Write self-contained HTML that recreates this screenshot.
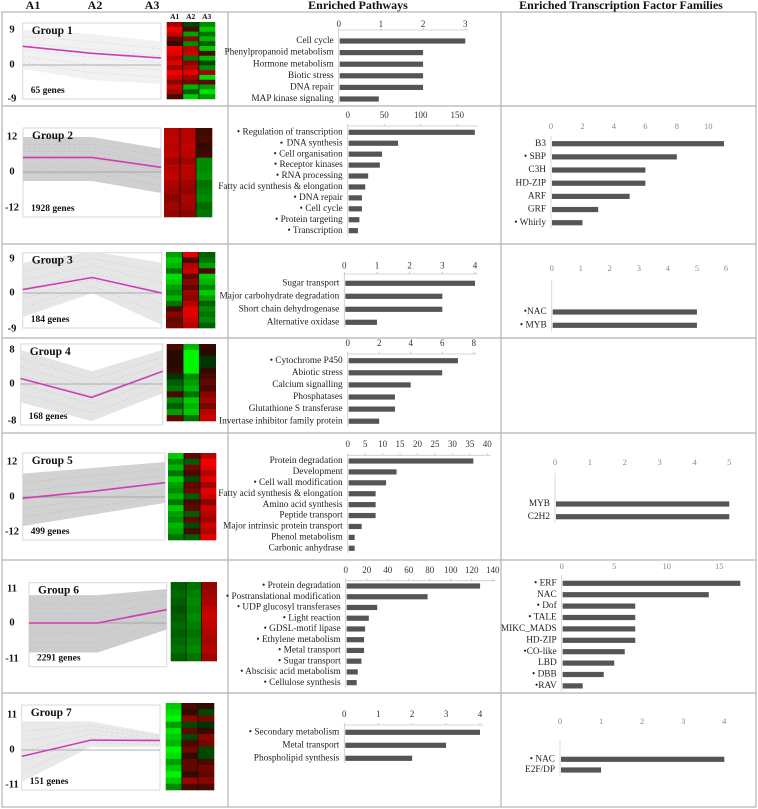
<!DOCTYPE html>
<html><head><meta charset="utf-8"><style>
html,body{margin:0;padding:0;background:#fff;}
svg{display:block;font-family:"Liberation Serif",serif;}
</style></head><body>
<svg id="fig" width="758" height="809" viewBox="0 0 758 809" xmlns="http://www.w3.org/2000/svg">
<g stroke="#b5b5b5" stroke-width="1.2" fill="none">
<rect x="2" y="12" width="754" height="795"/>
<line x1="228" y1="12" x2="228" y2="807"/>
<line x1="501" y1="12" x2="501" y2="807"/>
<line x1="2" y1="106" x2="756" y2="106"/>
<line x1="2" y1="244" x2="756" y2="244"/>
<line x1="2" y1="338" x2="756" y2="338"/>
<line x1="2" y1="433" x2="756" y2="433"/>
<line x1="2" y1="560" x2="756" y2="560"/>
<line x1="2" y1="693" x2="756" y2="693"/>
</g>
<g font-weight="bold" font-size="12" fill="#111">
<text x="33" y="9" text-anchor="middle">A1</text>
<text x="95" y="9" text-anchor="middle">A2</text>
<text x="152" y="9" text-anchor="middle">A3</text>
<text x="358" y="9" text-anchor="middle">Enriched Pathways</text>
<text x="621" y="9" text-anchor="middle">Enriched Transcription Factor Families</text>
</g>
<g font-weight="bold" font-size="7.5" fill="#111" text-anchor="middle">
<text x="174.7" y="19">A1</text><text x="190.7" y="19">A2</text><text x="206.7" y="19">A3</text>
</g>
</svg>
<script>
// ===== Pathway panels (middle) =====
const p1Labels=["Cell cycle","Phenylpropanoid metabolism","Hormone metabolism","Biotic stress","DNA repair","MAP kinase signaling"];
const p1Values=[3,2,2,2,2,0.95];
const p1Ticks=[0,1,2,3];
const p2Labels=["• Regulation of transcription","⋆ DNA synthesis","• Cell organisation","• Receptor kinases","• RNA processing","Fatty acid synthesis & elongation","• DNA repair","• Cell cycle","• Protein targeting","• Transcription"];
const p2Values=[174,69,47,44,28,24,19.5,19.5,16,14];
const p2Ticks=[0,50,100,150];
const p3Labels=["Sugar transport","Major carbohydrate degradation","Short chain dehydrogenase","Alternative oxidase"];
const p3Values=[4,3,3,1];
const p3Ticks=[0,1,2,3,4];
const p4Labels=["• Cytochrome P450","Abiotic stress","Calcium signalling","Phosphatases","Glutathione S transferase","Invertase inhibitor family protein"];
const p4Values=[7,6,4,3,3,2];
const p4Ticks=[0,2,4,6,8];
const p5Labels=["Protein degradation","Development","• Cell wall modification","Fatty acid synthesis & elongation","Amino acid synthesis","Peptide transport","Major intrinsic protein transport","Phenol metabolism","Carbonic anhydrase"];
const p5Values=[36,14,11,8,8,8,4,2,2];
const p5Ticks=[0,5,10,15,20,25,30,35,40];
const p6Labels=["• Protein degradation","• Postranslational modification","• UDP glucosyl transferases","• Light reaction","• GDSL-motif lipase","• Ethylene metabolism","• Metal transport","• Sugar transport","• Abscisic acid metabolism","• Cellulose synthesis"];
const p6Values=[128,78,30,22,18.5,17.5,17.5,15,11.5,10.5];
const p6Ticks=[0,20,40,60,80,100,120,140];
const p7Labels=["• Secondary metabolism","Metal transport","Phospholipid synthesis"];
const p7Values=[4,3,2];
const p7Ticks=[0,1,2,3,4];
// ===== TF panels (right) =====
const t2Labels=["B3","• SBP","C3H","HD-ZIP","ARF","GRF","• Whirly"];
const t2Values=[11,8,6,6,5,3,2];
const t2Ticks=[0,2,4,6,8,10];
const t3Labels=["•NAC","• MYB"];
const t3Values=[5,5];
const t3Ticks=[0,1,2,3,4,5,6];
const t5Labels=["MYB","C2H2"];
const t5Values=[5,5];
const t5Ticks=[0,1,2,3,4,5];
const t6Labels=["• ERF","NAC","• Dof","• TALE","MIKC_MADS","HD-ZIP","•CO-like","LBD","• DBB","•RAV"];
const t6Values=[17,14,7,7,7,7,6,5,4,2];
const t6Ticks=[0,5,10,15];
const t7Labels=["• NAC","E2F/DP"];
const t7Values=[4,1];
const t7Ticks=[0,1,2,3,4];
// ===== Expression profiles (left) =====
const groupNames=["Group 1","Group 2","Group 3","Group 4","Group 5","Group 6","Group 7"];
const geneCounts=["65 genes","1928 genes","184 genes","168 genes","499 genes","2291 genes","151 genes"];
const axisMax=[9,12,9,8,12,11,11];
const meanA1=[4.8,5,0.9,1.3,-0.4,0,-2];
const meanA2=[3,5,4.1,-2.9,2,0,3.1];
const meanA3=[1.8,1.6,0,3,4.9,4.3,3];
const upperA1=[9,12,8,8,8,9,9];
const upperA2=[8,12,11,3,10,9,9];
const upperA3=[6,8,8,8,12,11,5];
const lowerA1=[-1,-3,-6,-4,-10,-9,-10];
const lowerA2=[-4,-3,0,-8,-6,-9,1];
const lowerA3=[-5,-7,-8,-2,-2,-2,1];
const heat1=[[0.6,-0.2,-0.5],[1,0.2,-0.8],[0.8,-0.6,-0.4],[0.3,0.5,-0.7],[0.1,-0.5,-0.3],[1,0.7,-0.8],[0.9,0.8,0.2],[0.7,-0.4,-0.7],[0.9,0.5,-0.2],[0.6,0.7,-0.5],[1,0.9,0.6],[0.8,0.6,-0.9],[0.5,0.4,0.3],[0.8,-0.7,-0.6],[0.6,-0.3,-0.9],[0.2,-0.8,-0.6]];
const heat2=[[0.7,0.7,0.15],[0.75,0.7,0.2],[0.7,0.75,0.1],[0.75,0.7,0.15],[0.6,0.6,-0.5],[0.7,0.7,-0.5],[0.75,0.7,-0.55],[0.65,0.6,-0.4],[0.6,0.55,-0.45],[0.5,0.65,-0.5],[0.6,0.6,-0.35],[0.55,0.5,-0.4]];
const heat3=[[-0.6,0.9,-0.3],[-0.8,0.2,-0.4],[-0.7,0.7,-0.6],[-0.4,0.8,0.2],[-0.9,0.3,-0.8],[-0.8,0.5,-0.7],[-0.6,0.3,-0.5],[-0.5,0.6,-0.8],[-0.7,0.5,-0.6],[-0.4,0.7,-0.3],[0.2,0.9,-0.5],[0.5,0.9,-0.4],[0.3,0.8,-0.5],[0.4,0.7,-0.3]];
const heat4=[[0.2,-0.7,0.1],[0.05,-1,0.05],[0.05,-1,-0.1],[0.05,-1,-0.1],[0.1,-1,0.1],[-0.1,-0.5,0.2],[-0.3,-0.6,0.3],[-0.4,-0.7,0.2],[0.2,-0.4,0.5],[-0.5,-0.8,0.6],[-0.3,-0.7,0.4],[-0.6,-0.8,0.7],[0.3,-0.4,0.8]];
const heat5=[[-0.8,0.3,0.7],[-0.5,-0.3,1],[-0.7,0.4,0.9],[-0.4,0.2,0.7],[-0.8,-0.2,0.9],[-0.6,0.3,0.6],[-0.5,0.4,0.9],[-0.7,-0.3,0.8],[-0.4,0.2,0.5],[-0.8,0.3,0.8],[-0.6,-0.3,0.7],[-0.5,0.3,0.6],[-0.7,-0.2,0.8],[-0.6,0.2,0.7],[-0.4,-0.3,0.9]];
const heat6=[[-0.3,-0.4,0.55],[-0.35,-0.45,0.6],[-0.3,-0.5,0.65],[-0.25,-0.45,0.75],[-0.3,-0.5,0.8],[-0.35,-0.45,0.75],[-0.3,-0.4,0.7],[-0.35,-0.45,0.65],[-0.4,-0.5,0.7],[-0.3,-0.4,0.6]];
const heat7=[[-0.8,0.2,0.1],[-0.9,0.1,-0.2],[-1,0.5,0.4],[-0.6,-0.2,-0.1],[-0.9,0.3,0.1],[-0.8,-0.2,0.5],[-0.7,0.2,0.4],[-1,0.4,-0.2],[-0.9,0.1,-0.2],[-0.6,0.3,0.2],[-0.8,0.3,0.4],[-1,0.1,0.3],[-0.8,0.6,0.5],[-0.5,0.2,0.2]];

const NS="http://www.w3.org/2000/svg";
const svg=document.getElementById('fig');
function mk(tag,attrs,parent){const e=document.createElementNS(NS,tag);for(const k in attrs)e.setAttribute(k,attrs[k]);(parent||svg).appendChild(e);return e;}

function barChart(name,labels,values,ticks,cfg){
  const g=mk('g',{});
  
  
  const maxT=ticks[ticks.length-1];
  const sx=v=>cfg.x0+(cfg.xMax-cfg.x0)*v/maxT;
  const yRow=i=>cfg.y0+i*cfg.step;
  ticks.forEach(t=>{
    const tl=mk('text',{x:sx(t),y:cfg.tickY,'text-anchor':'middle','dominant-baseline':'middle','font-size':cfg.tf?8.5:9,fill:cfg.tf?'#8a8a8a':'#333'},g);
    tl.textContent=t;
    
    
    if(!cfg.tf) mk('line',{x1:sx(t),y1:cfg.axisY-2,x2:sx(t),y2:cfg.axisY,stroke:'#bbb','stroke-width':0.8},g);
  });
  if(!cfg.tf){
    mk('line',{x1:cfg.x0,y1:cfg.axisY,x2:cfg.axisEnd||sx(maxT)+3,y2:cfg.axisY,stroke:'#c8c8c8','stroke-width':0.8},g);
    mk('line',{x1:cfg.x0,y1:cfg.axisY,x2:cfg.x0,y2:yRow(labels.length-1)+5,stroke:'#c8c8c8','stroke-width':0.8},g);
  } else {
    mk('line',{x1:cfg.x0,y1:cfg.vTop,x2:cfg.x0,y2:yRow(labels.length-1)+6,stroke:'#d0d0d0','stroke-width':0.8},g);
  }
  labels.forEach((lb,i)=>{
    const t=mk('text',{x:cfg.x0-5,y:yRow(i),'text-anchor':'end','dominant-baseline':'middle','font-size':9.3,fill:'#222'},g);
    t.textContent=lb;
    
    
    const r=mk('rect',{x:cfg.x0+1,y:yRow(i)-2.6,width:Math.max(0,sx(values[i])-cfg.x0-1),height:5.2,fill:'#555'},g);
    
    
  });
}
barChart('pathways-group1',p1Labels,p1Values,p1Ticks,{x0:338.7,xMax:465.3,tickY:25,axisY:30,y0:41,step:11.6});
barChart('pathways-group2',p2Labels,p2Values,p2Ticks,{x0:347.7,xMax:457.3,axisEnd:478,tickY:116,axisY:126,y0:132.3,step:10.93});
barChart('pathways-group3',p3Labels,p3Values,p3Ticks,{x0:344.3,xMax:475,tickY:266.5,axisY:274,y0:283.3,step:13});
barChart('pathways-group4',p4Labels,p4Values,p4Ticks,{x0:347.7,xMax:473.7,tickY:344,axisY:354,y0:360.7,step:12.1});
barChart('pathways-group5',p5Labels,p5Values,p5Ticks,{x0:347.7,xMax:487.3,tickY:445,axisY:455.3,y0:461,step:10.91});
barChart('pathways-group6',p6Labels,p6Values,p6Ticks,{x0:345.7,xMax:492.7,tickY:570.7,axisY:580.7,y0:586,step:10.74});
barChart('pathways-group7',p7Labels,p7Values,p7Ticks,{x0:344.3,xMax:480,tickY:715,axisY:725,y0:732.3,step:13});
barChart('tf-group2',t2Labels,t2Values,t2Ticks,{tf:1,x0:551,xMax:708.3,tickY:127,vTop:136,y0:143.7,step:13.17});
barChart('tf-group3',t3Labels,t3Values,t3Ticks,{tf:1,x0:551.7,xMax:726,tickY:269,vTop:280,y0:312,step:13.3});
barChart('tf-group5',t5Labels,t5Values,t5Ticks,{tf:1,x0:555,xMax:729.3,tickY:463,vTop:473,y0:504,step:12.7});
barChart('tf-group6',t6Labels,t6Values,t6Ticks,{tf:1,x0:561.7,xMax:719.3,tickY:567,vTop:575,y0:583.3,step:11.4});
barChart('tf-group7',t7Labels,t7Values,t7Ticks,{tf:1,x0:560,xMax:724.3,tickY:722,vTop:740,y0:759.3,step:10.7});

const boxes=[[22.7,23,161,99],[23,128,161,217],[22.7,252.7,161.7,328],[20.7,344,162.7,425],[22.7,453,165,540],[29,582.7,166.7,666.7],[21.7,705,160,790]];
const yLabs=[[30,65,99],[137,172,208],[259,293,329],[350,384,421],[462,497,532],[589,623,659],[715,750,785]];
const heatBoxes=[[166.7,22,215,99],[164,128,212,217],[166,252,215,328],[166.7,344,215.7,421],[168,453,216,540],[170.7,582,216.7,661],[165.7,703,214,790]];
const heats=[heat1,heat2,heat3,heat4,heat5,heat6,heat7];
const envFill=['#f1f1f1','#cfcfcf','#e6e6e6','#e4e4e4','#d2d2d2','#cdcdcd','#e9e9e9'];
const envLine=['#dddddd','#c0c0c0','#d4d4d4','#d2d2d2','#c2c2c2','#c0c0c0','#d6d6d6'];
function cellColor(v){const a=Math.min(1,Math.abs(v));const c=Math.round(30+215*a);return v>=0?`rgb(${c},${Math.round(10*(1-a))},0)`:`rgb(0,${c},0)`;}
for(let gi=0;gi<7;gi++){
  const g=mk('g',{});
  
  
  const [bx0,by0,bx1,by1]=boxes[gi];
  const [yT,yZ,yB]=yLabs[gi];
  const m=axisMax[gi];
  const sy=v=>v>=0?yZ-(yZ-yT)*v/m:yZ+(yB-yZ)*(-v)/m;
  const xs=[bx0,(bx0+bx1)/2,bx1];
  mk('rect',{x:bx0,y:by0,width:bx1-bx0,height:by1-by0,fill:'#fff',stroke:'#d8d8d8','stroke-width':1},g);
  const up=[upperA1[gi],upperA2[gi],upperA3[gi]];
  const lo=[lowerA1[gi],lowerA2[gi],lowerA3[gi]];
  const pts=xs.map((x,i)=>x+','+sy(up[i])).concat(xs.slice().reverse().map((x,j)=>x+','+sy(lo[2-j]))).join(' ');
  const env=mk('polygon',{points:pts,fill:envFill[gi]},g);
  
  
  for(let k=1;k<6;k++){
    const f=k/6;
    const p=xs.map((x,i)=>x+','+sy(lo[i]+(up[i]-lo[i])*f)).join(' ');
    mk('polyline',{points:p,fill:'none',stroke:envLine[gi],'stroke-width':0.7,'stroke-dasharray':'3,2'},g);
  }
  mk('line',{x1:bx0,y1:sy(0),x2:bx1,y2:sy(0),stroke:'#999','stroke-width':0.8},g);
  const mean=[meanA1[gi],meanA2[gi],meanA3[gi]];
  const ml=mk('polyline',{points:xs.map((x,i)=>x+','+sy(mean[i])).join(' '),fill:'none',stroke:'#d03cb4','stroke-width':1.6},g);
  
  
  [[m,yT],[0,yZ],[-m,yB]].forEach(([v,y])=>{
    const t=mk('text',{x:12,y:y,'text-anchor':'middle','dominant-baseline':'middle','font-size':10.5,'font-weight':'bold',fill:'#111'},g);
    t.textContent=v;
    
    
  });
  const gn=mk('text',{x:bx0+9,y:by0+11,'font-size':11.5,'font-weight':'bold',fill:'#111'},g);
  gn.textContent=groupNames[gi];
  
  
  const gc=mk('text',{x:bx0+8,y:by1-6,'font-size':9.5,'font-weight':'bold',fill:'#111'},g);
  gc.textContent=geneCounts[gi];
  
  
  const [hx0,hy0,hx1,hy1]=heatBoxes[gi];
  const H=heats[gi];
  const cw=(hx1-hx0)/3, rh=(hy1-hy0)/H.length;
  const hg=mk('g',{},g);
  
  
  H.forEach((row,ri)=>row.forEach((v,ci)=>{
    const c=mk('rect',{x:hx0+ci*cw,y:hy0+ri*rh,width:cw+0.3,height:rh+0.3,fill:cellColor(v)},hg);
    
    
  }));
  mk('line',{x1:hx0+cw,y1:hy0,x2:hx0+cw,y2:hy1,stroke:'#111','stroke-width':0.8},hg);
  mk('line',{x1:hx0+2*cw,y1:hy0,x2:hx0+2*cw,y2:hy1,stroke:'#111','stroke-width':0.8},hg);
}
</script>
</body></html>
